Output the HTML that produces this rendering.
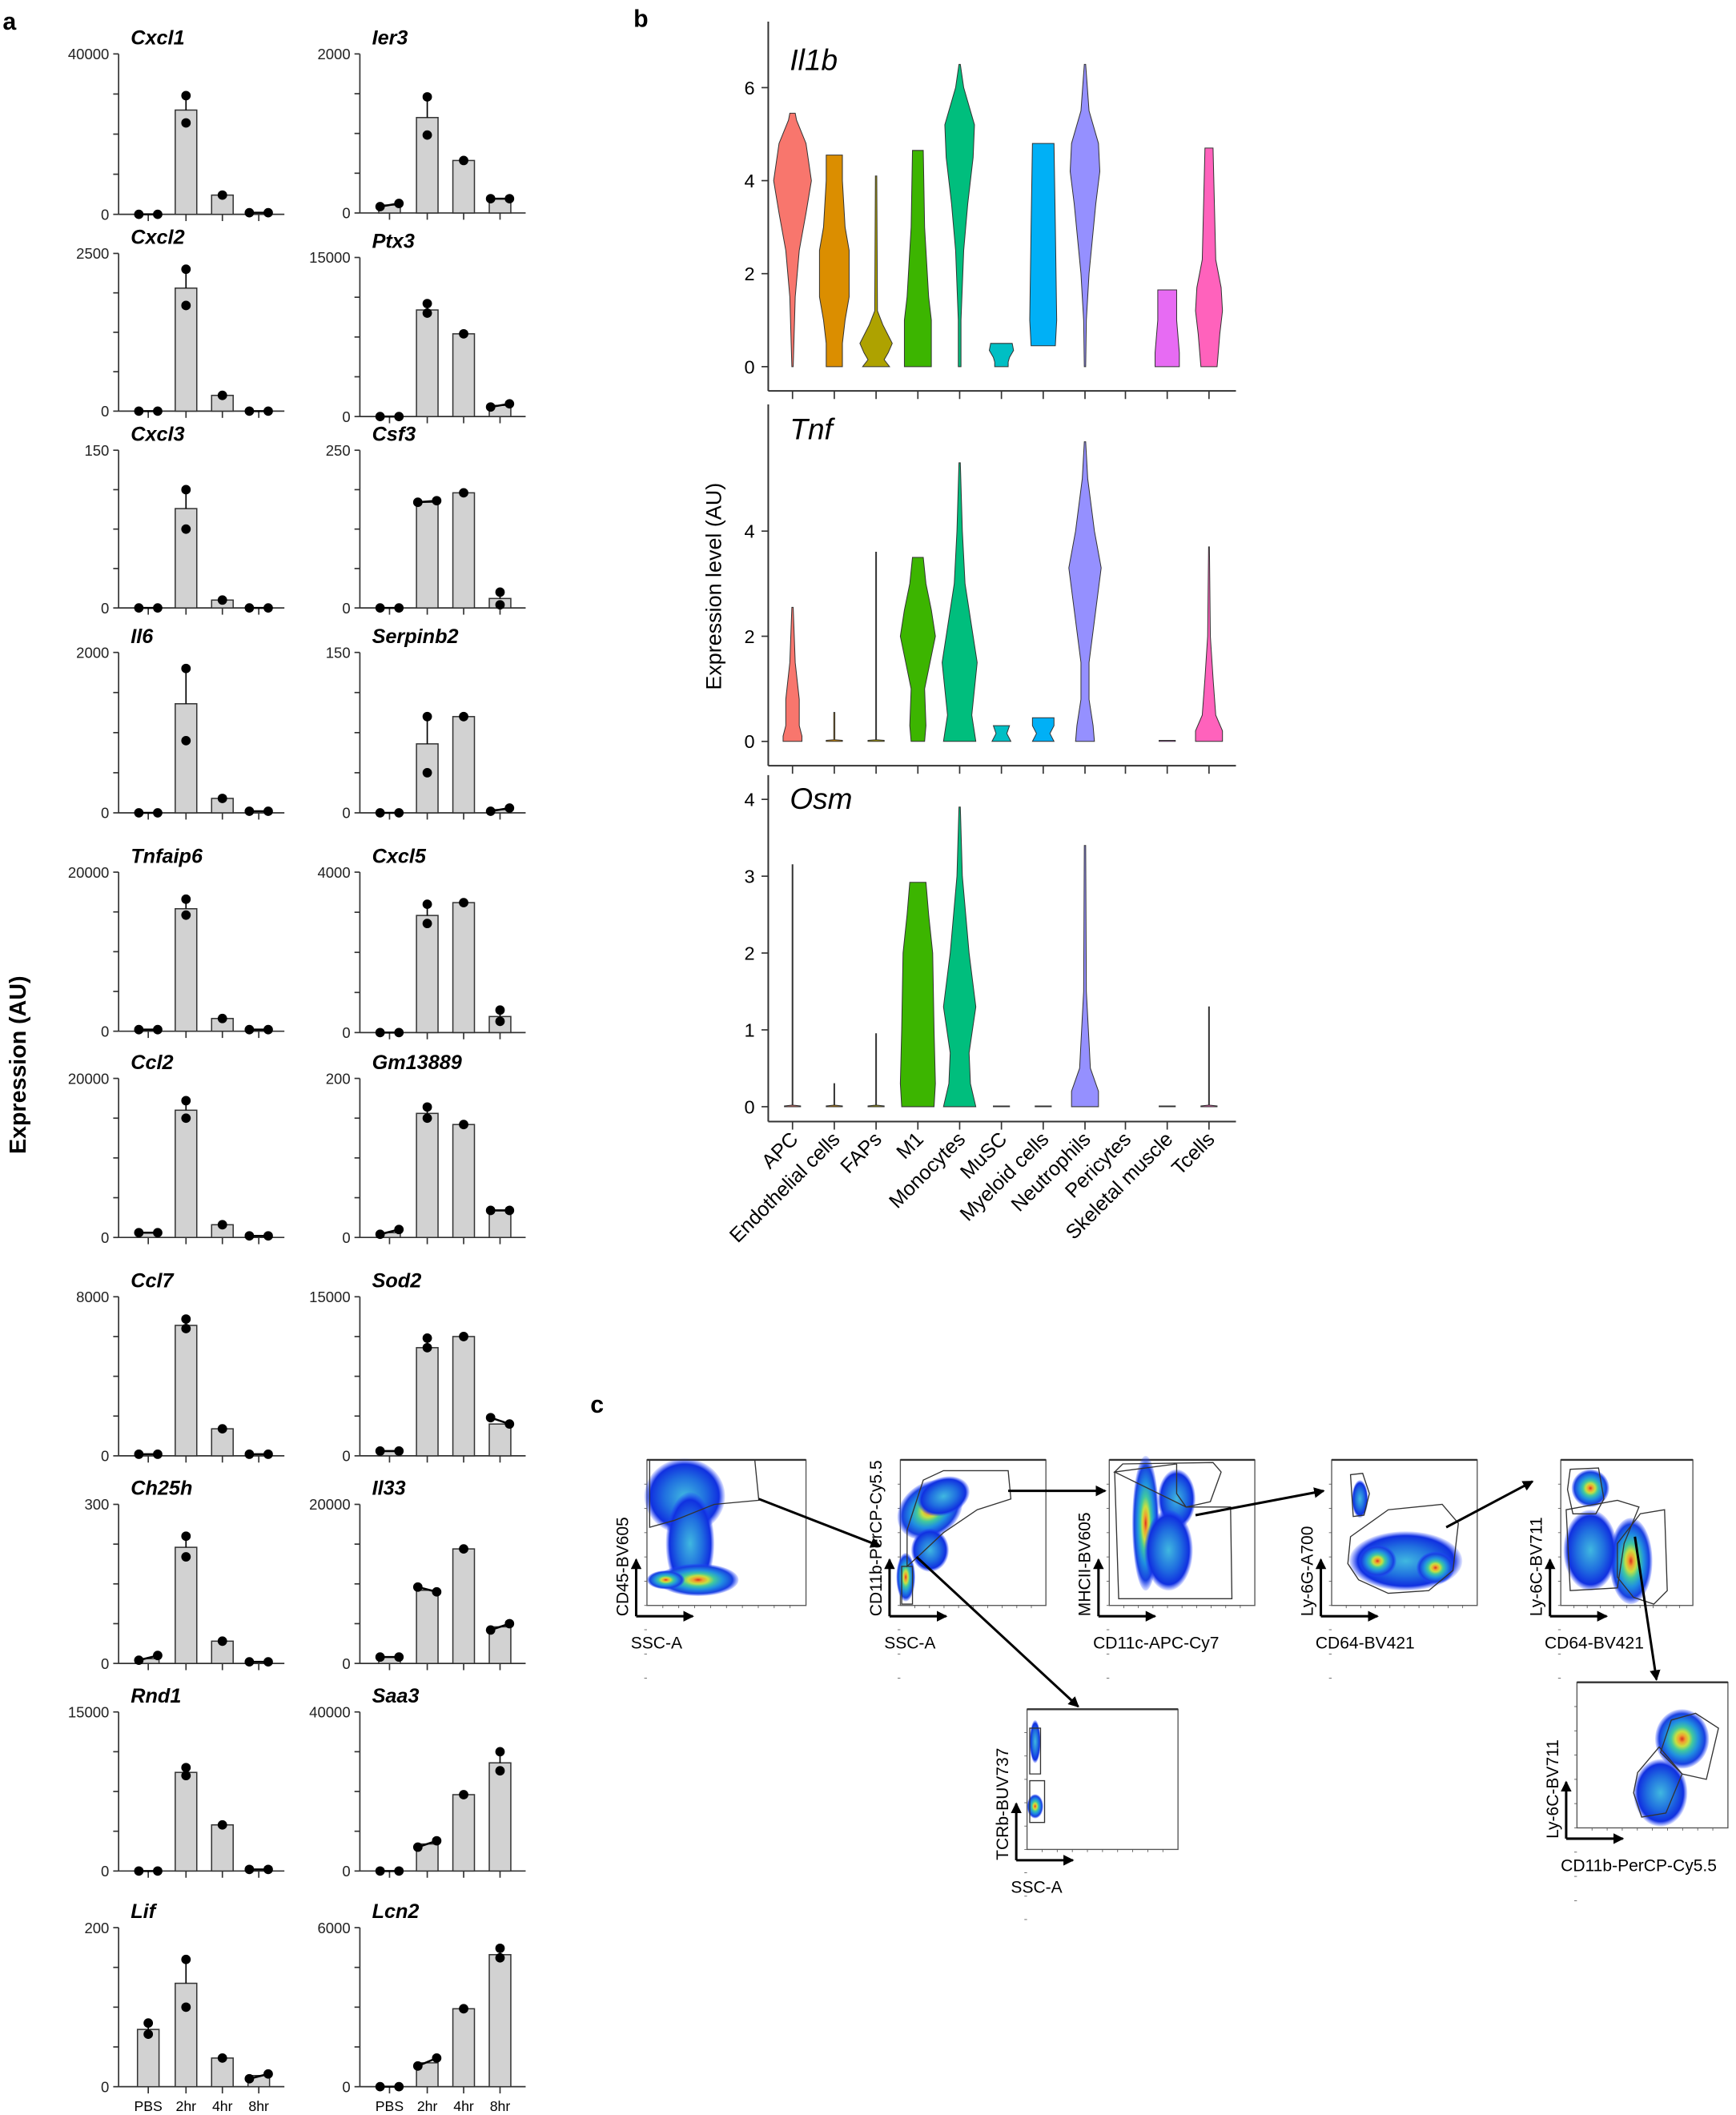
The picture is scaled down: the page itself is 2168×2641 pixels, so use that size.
<!DOCTYPE html>
<html><head><meta charset="utf-8"><style>
html,body{margin:0;padding:0;background:#fff;}
svg{display:block;}
text{font-family:"Liberation Sans",Arial,sans-serif;}
</style></head><body>
<svg id="s" xmlns="http://www.w3.org/2000/svg" width="2168" height="2641" viewBox="0 0 1288 1569">
<defs>
<radialGradient id="dens">
<stop offset="0" stop-color="#d83020"/>
<stop offset="0.12" stop-color="#f0a030"/>
<stop offset="0.25" stop-color="#c8e040"/>
<stop offset="0.4" stop-color="#40c8a0"/>
<stop offset="0.6" stop-color="#2090e0"/>
<stop offset="0.85" stop-color="#1840e0"/>
<stop offset="1" stop-color="#2040ff" stop-opacity="0.15"/>
</radialGradient>
<radialGradient id="dens2">
<stop offset="0" stop-color="#40b8e0"/>
<stop offset="0.5" stop-color="#2070e0"/>
<stop offset="0.85" stop-color="#1030e0"/>
<stop offset="1" stop-color="#2040ff" stop-opacity="0.1"/>
</radialGradient>
<marker id="ah" markerWidth="8" markerHeight="8" refX="7" refY="4" orient="auto" markerUnits="userSpaceOnUse">
<path d="M0,0 L8,4 L0,8 z" fill="#000"/></marker>
</defs>
<g id="g"></g>
</svg>
<script>
var o=[];
function T(x,y,t,sz,extra){o.push('<text x="'+x+'" y="'+y+'" font-size="'+sz+'" '+(extra||'')+'>'+t+'</text>');}
function L(x1,y1,x2,y2,w,c,extra){o.push('<line x1="'+x1+'" y1="'+y1+'" x2="'+x2+'" y2="'+y2+'" stroke="'+(c||'#000')+'" stroke-width="'+(w||1)+'" '+(extra||'')+'/>');}
T(2,22,'a',18,'font-weight="bold"');
T(0,0,'Expression (AU)',17,'font-weight="bold" text-anchor="middle" transform="translate(19,790) rotate(-90)"');
var rowsL=[[40,159],[188,305],[334,451],[484,603],[647,765],[800,918],[962,1080],[1116,1234],[1270,1388],[1430,1548]];
var rowsR=[[40,158],[191,309],[334,451],[484,603],[647,766],[800,918],[962,1080],[1116,1234],[1270,1388],[1430,1548]];
var L_=[
['Cxcl1','40000',[0,.65,.12,.01],[[0,0],[.74,.57],[.12,.12],[.01,.01]]],
['Cxcl2','2500',[0,.78,.1,0],[[0,0],[.9,.67],[.1,.1],[0,0]]],
['Cxcl3','150',[0,.63,.05,0],[[0,0],[.75,.5],[.05,.05],[0,0]]],
['Il6','2000',[0,.68,.09,.01],[[0,0],[.9,.45],[.09,.09],[.01,.01]]],
['Tnfaip6','20000',[.01,.77,.08,.01],[[.01,.01],[.83,.73],[.08,.08],[.01,.01]]],
['Ccl2','20000',[.03,.8,.08,.01],[[.03,.03],[.86,.75],[.08,.08],[.01,.01]]],
['Ccl7','8000',[.01,.82,.17,.01],[[.01,.01],[.86,.8],[.17,.17],[.01,.01]]],
['Ch25h','300',[.03,.73,.14,.01],[[.02,.05],[.8,.67],[.14,.14],[.01,.01]]],
['Rnd1','15000',[0,.62,.29,.01],[[0,0],[.65,.6],[.29,.29],[.01,.01]]],
['Lif','200',[.36,.65,.18,.07],[[.33,.4],[.8,.5],[.18,.18],[.05,.08]]]];
var R_=[
['Ier3','2000',[.05,.6,.33,.09],[[.04,.06],[.73,.49],[.33,.33],[.09,.09]]],
['Ptx3','15000',[0,.67,.52,.07],[[0,0],[.71,.65],[.52,.52],[.06,.08]]],
['Csf3','250',[0,.67,.73,.06],[[0,0],[.67,.68],[.73,.73],[.1,.02]]],
['Serpinb2','150',[0,.43,.6,.02],[[0,0],[.6,.25],[.6,.6],[.01,.03]]],
['Cxcl5','4000',[0,.73,.81,.1],[[0,0],[.8,.68],[.81,.81],[.14,.07]]],
['Gm13889','200',[.03,.78,.71,.17],[[.02,.05],[.82,.75],[.71,.71],[.17,.17]]],
['Sod2','15000',[.03,.68,.75,.2],[[.03,.03],[.74,.68],[.75,.75],[.24,.2]]],
['Il33','20000',[.04,.46,.72,.23],[[.04,.04],[.48,.45],[.72,.72],[.21,.25]]],
['Saa3','40000',[0,.17,.48,.68],[[0,0],[.15,.19],[.48,.48],[.75,.63]]],
['Lcn2','6000',[0,.15,.49,.83],[[0,0],[.13,.18],[.49,.49],[.87,.81]]]];
function barPlot(ax,r,d,last){
 var top=r[0],z=r[1],h=z-top;
 L(ax,top,ax,z,1,'#333');L(ax,z,ax+123,z,1,'#333');
 for(var k=0;k<=4;k++){var yy=z-h*k/4;L(ax-4,yy,ax,yy,1,'#333');}
 T(ax-7,top+4,d[1],11,'text-anchor="end" fill="#222"');
 T(ax-7,z+4,'0',11,'text-anchor="end" fill="#222"');
 T(ax+9,top-7,d[0],15,'font-weight="bold" font-style="italic"');
 var offs=[22,50,77,104];
 for(var i=0;i<4;i++){
  var cx=ax+offs[i];L(cx,z,cx,z+5,1,'#333');
  var bh=d[2][i]*h;
  if(bh>0.5)o.push('<rect x="'+(cx-8)+'" y="'+(z-bh)+'" width="16" height="'+bh+'" fill="#d2d2d2" stroke="#333" stroke-width="0.9"/>');
  var p=d[3][i];
  if(Math.abs(p[0]-p[1])<0.05){
    var y1=z-p[0]*h,y2=z-p[1]*h;
    if(p[0]===p[1] && (i===1||i===2)){o.push('<circle cx="'+cx+'" cy="'+y1+'" r="3.5"/>');}
    else{L(cx-7,y1,cx+7,y2,1.5);o.push('<circle cx="'+(cx-7)+'" cy="'+y1+'" r="3.5"/><circle cx="'+(cx+7)+'" cy="'+y2+'" r="3.5"/>');}
  } else {
    var mx=Math.max(p[0],p[1]);
    L(cx,z-bh,cx,z-mx*h,1);L(cx-3,z-mx*h,cx+3,z-mx*h,1);
    o.push('<circle cx="'+cx+'" cy="'+(z-p[0]*h)+'" r="3.5"/><circle cx="'+cx+'" cy="'+(z-p[1]*h)+'" r="3.5"/>');
  }
  if(last){T(cx,z+18,['PBS','2hr','4hr','8hr'][i],10.5,'text-anchor="middle"');}
 }
}
for(var i=0;i<10;i++){barPlot(88,rowsL[i],L_[i],i==9);barPlot(267,rowsR[i],R_[i],i==9);}
T(470,20,'b',18,'font-weight="bold"');
T(0,0,'Expression level (AU)',16,'text-anchor="middle" transform="translate(535,435) rotate(-90)"');
var cols=['#F8766D','#DB8E00','#AEA200','#3CB500','#00BE7D','#00BFC4','#00B0F6','#9590FF','#E76BF3','#E76BF3','#FF62BC'];
var xs=[588,619,650,681,712,743,774,805,835,866,897];
function violin(cx,z,u,pts,c){
 if(!pts)return;
 var r=[],l=[];
 for(var i=0;i<pts.length;i++){var y=z-pts[i][0]*u;r.push((cx+pts[i][1])+','+y);l.unshift((cx-pts[i][1])+','+y);}
 o.push('<polygon points="'+r.concat(l).join(' ')+'" fill="'+c+'" stroke="#333" stroke-width="0.6"/>');
}
function vpanel(title,ty,top,z,u,ticks,axisY,data){
 L(570,top,570,axisY,1.2,'#333');L(570,axisY,917,axisY,1.2,'#333');
 for(var k=0;k<ticks.length;k++){var yy=z-ticks[k]*u;L(565,yy,570,yy,1,'#333');T(560,yy+5,String(ticks[k]),14,'text-anchor="end"');}
 for(var i=0;i<11;i++){L(xs[i],axisY,xs[i],axisY+6,1,'#333');violin(xs[i],z,u,data[i],cols[i]);}
 T(586,ty,title,22,'font-style="italic"');
}
var il1b=[
[[5.45,2],[5.3,3],[4.8,10],[4,14],[3.3,10],[2.5,5],[1.5,2],[0.5,1],[0,0.5]],
[[4.55,6],[4,6],[3,8],[2.5,11],[1.5,11],[1,8],[0.5,6],[0,6]],
[[4.1,0.5],[1.2,1],[0.9,5],[0.5,12],[0.3,9],[0.15,6],[0,10]],
[[4.65,4],[3,5],[1.5,8],[1,10],[0,10]],
[[6.5,0.5],[6,3],[5.2,11],[4.5,10],[3.5,6],[2.5,3],[1,1],[0,1]],
[[0.5,8],[0.35,9],[0.2,6],[0.1,5],[0,5]],
[[4.8,8],[3,9],[1,10],[0.45,9]],
[[6.5,0.5],[5.5,3],[4.8,10],[4.2,11],[3.5,8],[2,3],[1,1],[0,0.5]],
null,
[[1.65,7],[1,7],[0.3,9],[0,9]],
[[4.7,3],[3.5,4],[2.3,5],[1.7,9],[1.2,10],[0.7,8],[0,6]]];
var tnf=[
[[2.55,0.5],[1.5,2],[0.8,5],[0.3,5],[0.1,7],[0,7]],
[[0.55,0.4],[0.03,0.4],[0.02,6],[0,6]],
[[3.6,0.3],[0.03,0.3],[0.02,6],[0,6]],
[[3.5,4],[3,6],[2.5,10],[2,13],[1.5,9],[1,5],[0.3,6],[0,5]],
[[5.3,0.5],[4,2],[3,4],[2,10],[1.5,13],[1,11],[0.5,9],[0,12]],
[[0.3,6],[0.15,4],[0,7]],
[[0.45,8],[0.3,8],[0.15,5],[0,8]],
[[5.7,0.5],[5,2],[4,7],[3.3,12],[2.5,8],[1.5,3],[0.8,3],[0.3,6],[0,7]],
null,
[[0.02,6],[0,6]],
[[3.7,0.3],[2,1],[1.2,3],[0.5,5],[0.2,10],[0,10]]];
var osm=[
[[3.15,0.3],[0.02,0.3],[0.01,6],[0,6]],
[[0.3,0.3],[0.02,0.3],[0.01,6],[0,6]],
[[0.95,0.3],[0.02,0.3],[0.01,6],[0,6]],
[[2.92,6],[2.5,8],[2,11],[1,12],[0.3,13],[0,12]],
[[3.9,0.5],[3,2],[2,7],[1.3,12],[0.7,7],[0.3,8],[0,12]],
[[0.01,6],[0,6]],
[[0.01,6],[0,6]],
[[3.4,0.5],[1.5,1],[0.5,4],[0.2,10],[0,10]],
null,
[[0.01,6],[0,6]],
[[1.3,0.3],[0.02,0.3],[0.01,6],[0,6]]];
vpanel('Il1b',52,16,272,34.5,[0,2,4,6],290,il1b);
vpanel('Tnf',326,300,550,39,[0,2,4],568,tnf);
vpanel('Osm',600,575,821,57,[0,1,2,3,4],832,osm);
var cats=['APC','Endothelial cells','FAPs','M1','Monocytes','MuSC','Myeloid cells','Neutrophils','Pericytes','Skeletal muscle','Tcells'];
for(var i=0;i<11;i++)T(0,0,cats[i],15,'text-anchor="end" transform="translate('+(xs[i]+5)+',846) rotate(-45)"');
T(438,1048,'c',18,'font-weight="bold"');
function fbox(x,y,w,h,xl,yl){
 o.push('<rect x="'+x+'" y="'+y+'" width="'+w+'" height="'+h+'" fill="none" stroke="#555" stroke-width="0.8"/>');
 L(x,y,x+w,y,1.4,'#333');
 for(var k=1;k<10;k++){L(x+k*w/10,y+h,x+k*w/10,y+h+2,0.5,'#555');L(x-2,y+k*h/6,x,y+k*h/6,0.5,'#555');}
 var ox=x-8,oy=y+h+8;
 L(ox,oy,ox,oy-42,1.8,'#000','marker-end="url(#ah)"');L(ox,oy,ox+42,oy,1.8,'#000','marker-end="url(#ah)"');
 T(ox-4,oy+24,xl,12.5);
 T(0,0,yl,12.5,'transform="translate('+(ox-6)+','+(oy)+') rotate(-90)"');
}
function blob(cx,cy,rx,ry,rot,g){o.push('<ellipse cx="'+cx+'" cy="'+cy+'" rx="'+rx+'" ry="'+ry+'" transform="rotate('+(rot||0)+' '+cx+' '+cy+')" fill="url(#'+(g||'dens')+')"/>');}
function poly(p){o.push('<polygon points="'+p+'" fill="none" stroke="#333" stroke-width="0.8"/>');}
fbox(480,1083,118,108,'SSC-A','CD45-BV605');
blob(508,1110,30,28,0,'dens2');blob(512,1145,18,38,0,'dens2');blob(518,1172,30,12,0);blob(494,1172,14,7,0);
poly('482,1083 560,1083 563,1113 530,1116 500,1128 482,1133');
fbox(668,1083,108,108,'SSC-A','CD11b-PerCP-Cy5.5');
blob(690,1120,26,20,-35);blob(700,1110,20,14,-20,'dens2');blob(672,1170,7,18,0);blob(690,1150,14,16,0,'dens2');
poly('685,1098 700,1091 748,1091 750,1112 725,1120 700,1137 683,1153 673,1162 673,1135');
poly('669,1162 677,1162 677,1190 669,1190');
fbox(823,1083,108,108,'CD11c-APC-Cy7','MHCII-BV605');
blob(850,1130,10,50,0);blob(873,1112,14,22,0,'dens2');blob(867,1150,18,30,0,'dens2');
poly('827,1092 833,1086 900,1085 906,1092 898,1114 880,1118 873,1108 873,1086');
poly('827,1092 830,1186 914,1186 913,1118 880,1118');
fbox(988,1083,108,108,'CD64-BV421','Ly-6G-A700');
blob(1009,1112,6,14,0,'dens2');blob(1043,1158,42,22,0,'dens2');blob(1065,1163,14,12,0);blob(1022,1158,14,12,0);
poly('1002,1094 1011,1093 1016,1108 1012,1124 1004,1125');
poly('1002,1140 1030,1120 1070,1116 1082,1130 1078,1165 1060,1180 1030,1182 1008,1172 1000,1160');
fbox(1158,1083,98,108,'CD64-BV421','Ly-6C-BV711');
blob(1180,1104,14,14,0);blob(1210,1158,16,32,0);blob(1180,1150,20,30,0,'dens2');
poly('1165,1090 1186,1089 1190,1112 1184,1123 1167,1123 1163,1105');
poly('1162,1120 1200,1113 1216,1118 1205,1145 1200,1178 1165,1180');
poly('1200,1145 1217,1123 1235,1120 1237,1180 1227,1190 1212,1185 1200,1170');
fbox(762,1268,112,104,'SSC-A','TCRb-BUV737');
blob(768,1292,4,16,0,'dens2');blob(768,1340,6,9,0);
poly('764,1282 772,1282 772,1316 764,1316');poly('764,1321 775,1321 775,1352 764,1352');
fbox(1170,1248,112,108,'CD11b-PerCP-Cy5.5','Ly-6C-BV711');
blob(1248,1290,20,22,0);blob(1232,1330,20,25,0,'dens2');
poly('1240,1276 1258,1271 1275,1282 1266,1320 1248,1316 1232,1300 1237,1285');
poly('1215,1315 1231,1296 1248,1316 1236,1345 1218,1348 1212,1330');
function A(x1,y1,x2,y2){L(x1,y1,x2,y2,1.8,'#000','marker-end="url(#ah)"');}
A(563,1112,653,1147);A(748,1106,820,1106);A(680,1155,800,1266);A(887,1124,982,1106);A(1073,1133,1137,1099);A(1213,1140,1229,1246);
document.getElementById('g').innerHTML=o.join('');
</script>
</body></html>
